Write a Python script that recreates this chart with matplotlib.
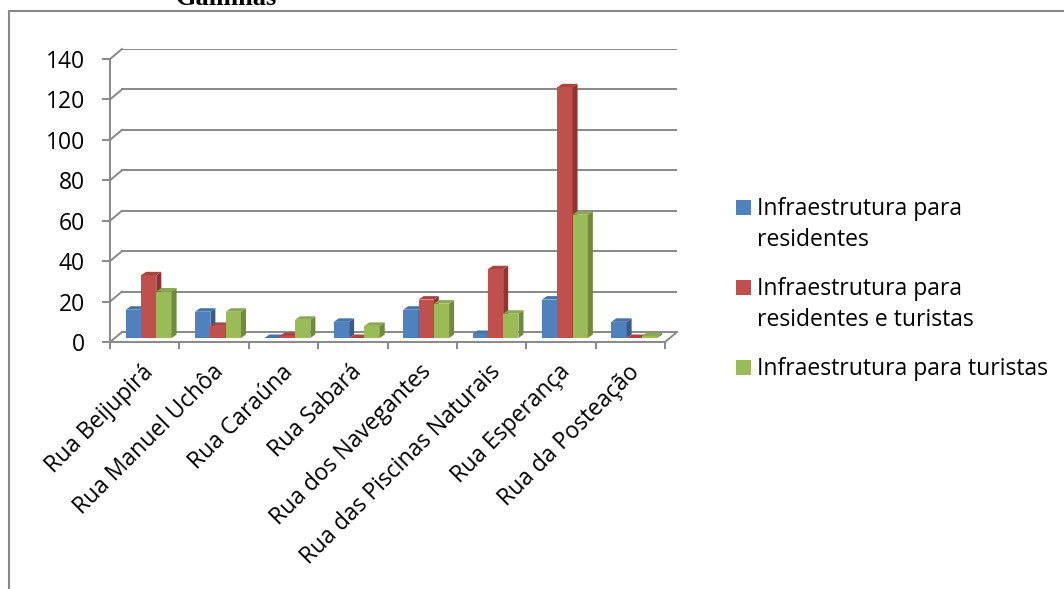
import matplotlib
matplotlib.use("Agg")
import matplotlib.pyplot as plt
from matplotlib.patches import Polygon, Rectangle
from matplotlib.lines import Line2D

# ---------------- data ----------------
categories = ["Rua Beijupirá", "Rua Manuel Uchôa", "Rua Caraúna", "Rua Sabará",
              "Rua dos Navegantes", "Rua das Piscinas Naturais", "Rua Esperança",
              "Rua da Posteação"]
series_names = ["Infraestrutura para residentes",
                "Infraestrutura para residentes e turistas",
                "Infraestrutura para turistas"]
legend_lines = [["Infraestrutura para", "residentes"],
                ["Infraestrutura para", "residentes e turistas"],
                ["Infraestrutura para turistas"]]
residentes = [14, 13, 0, 8, 14, 2, 19, 8]
residentes_turistas = [31, 6, 1, 0, 19, 34, 124, 0]
turistas = [23, 13, 9, 6, 17, 12, 61, 1]
y_ticks = [0, 20, 40, 60, 80, 100, 120, 140]
title = "Galinhas"

# ---------------- style ----------------
W, H = 1064, 589
FONT = "Open Sans"
FS = 16.5
front_cols = ["#4F81BD", "#C0504D", "#9BBB59"]
side_cols = ["#375C8B", "#8E3431", "#6F8A3C"]
top_cols = ["#4472AB", "#AD4340", "#8AA84E"]
grid_col = "#888888"

fig = plt.figure(figsize=(W / 100, H / 100), dpi=100)

def fx(x):
    return x / W

def fy(y):
    return 1 - y / H

# axes geometry in pixels
AX_L, AX_R, AX_B, AX_T = 110, 677, 342, 49
ax = fig.add_axes([fx(AX_L), fy(AX_B), (AX_R - AX_L) / W, (AX_B - AX_T) / H])
px_x = (665 - AX_L) / len(categories)       # px per category
px_y = (342 - 59) / 140.0                    # px per value unit
DX = 12 / px_x                              # back wall depth offset
DY = 10 / px_y
ax.set_xlim(0, len(categories) + DX)
ax.set_ylim(0, y_ticks[-1] + DY)
ax.set_facecolor("none")
for s in ["top", "right"]:
    ax.spines[s].set_visible(False)
for s in ["left", "bottom"]:
    ax.spines[s].set_color(grid_col)
    ax.spines[s].set_linewidth(1.4)
ax.spines["left"].set_bounds(0, y_ticks[-1])
ax.spines["bottom"].set_bounds(0, len(categories))
ax.set_yticks(y_ticks)
ax.set_yticklabels([str(t) for t in y_ticks], fontsize=FS, fontfamily=FONT)
ax.tick_params(axis="y", length=6, width=1.4, color=grid_col, pad=12)
ax.set_xticks(range(len(categories) + 1))
ax.set_xticklabels([])
ax.tick_params(axis="x", length=5, width=1.4, color=grid_col)

# back wall gridlines + diagonals
for t in y_ticks:
    ax.add_line(Line2D([DX, len(categories) + DX], [t + DY, t + DY], color=grid_col, lw=1.4, zorder=1))
    ax.add_line(Line2D([0, DX], [t, t + DY], color=grid_col, lw=1.4, zorder=1, clip_on=False))
ax.add_line(Line2D([len(categories), len(categories) + DX], [0, DY], color=grid_col, lw=1.4, zorder=1, clip_on=False))

# 3D-like bars
BW = 15.3 / px_x
START = 15.7 / px_x
B0 = 4 / px_y
SDX = 5 / px_x
SDY = 3.5 / px_y
all_series = [residentes, residentes_turistas, turistas]
for i in range(len(categories)):
    for j, vals in enumerate(all_series):
        v = vals[i]
        x0 = i + START + j * BW
        z = 3 + i * 0.1 + j * 0.01
        ax.add_patch(Rectangle((x0, B0), BW, v, facecolor=front_cols[j], edgecolor="none", zorder=z))
        ax.add_patch(Polygon([(x0 + BW, B0), (x0 + BW + SDX, B0 + SDY),
                              (x0 + BW + SDX, B0 + SDY + v), (x0 + BW, B0 + v)],
                             closed=True, facecolor=side_cols[j], edgecolor="none", zorder=z))
        ax.add_patch(Polygon([(x0, B0 + v), (x0 + BW, B0 + v),
                              (x0 + BW + SDX, B0 + v + SDY), (x0 + SDX, B0 + v + SDY)],
                             closed=True, facecolor=top_cols[j], edgecolor="none", zorder=z))

# category labels
for i, c in enumerate(categories):
    ax.text(i + 0.46, -9, c, rotation=45, ha="right", va="top",
            rotation_mode="anchor", fontsize=FS, fontfamily=FONT, color="black", clip_on=False)

# legend (manual, Excel-style)
entry_tops = [200, 280, 360]
for j, lines in enumerate(legend_lines):
    top = entry_tops[j]
    fig.add_artist(Rectangle((fx(736), fy(top + 14.5)), 14.5 / W, 14.5 / H,
                             facecolor=front_cols[j], edgecolor="none", transform=fig.transFigure))
    for k, ln in enumerate(lines):
        fig.text(fx(757), fy(top + 15 + 31 * k), ln, fontsize=FS, fontfamily=FONT,
                 ha="left", va="baseline", color="black")

# chart border (cut off at right/bottom) and clipped title
fig.add_artist(Line2D([fx(8.5), fx(W + 5)], [fy(10.5), fy(10.5)], color="#888888", lw=1.5,
                      transform=fig.transFigure))
fig.add_artist(Line2D([fx(8.5), fx(8.5)], [fy(10.5), fy(H + 5)], color="#888888", lw=1.5,
                      transform=fig.transFigure))
fig.text(fx(226), fy(4.7), title, fontsize=19, fontweight="bold", fontfamily="Liberation Serif",
         ha="center", va="baseline")

fig.savefig("out.png", dpi=100)
